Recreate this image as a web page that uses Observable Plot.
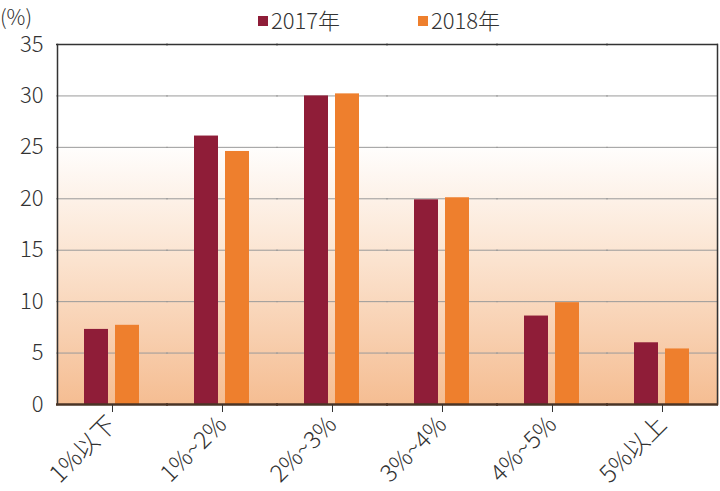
<!DOCTYPE html>
<html>
<head>
<meta charset="utf-8">
<script src="https://cdn.jsdelivr.net/npm/d3@7"></script>
<script src="https://cdn.jsdelivr.net/npm/@observablehq/plot@0.6"></script>
<style>
  html, body { margin: 0; padding: 0; background: #fff; }
  #wrap { position: relative; width: 720px; height: 491px; font-family: "Noto Sans CJK JP", "Noto Sans", sans-serif; color: #333; }
  #unit { position: absolute; left: 0; top: 1px; font-size: 21px; line-height: 30px; font-weight: 300; }
  #legend { position: absolute; top: 6px; left: 0; width: 720px; height: 28px; }
  .item { position: absolute; display: flex; align-items: center; font-size: 22px; line-height: 26px; font-weight: 300; }
  .sw { width: 10px; height: 10px; margin-right: 3px; margin-top: 3px; }
  svg { font-family: "Noto Sans CJK JP", "Noto Sans", sans-serif; }
</style>
</head>
<body>
<div id="wrap">
  <div id="chart"></div>
  <div id="unit">(%)</div>
  <div id="legend"></div>
</div>
<script>
const categories = ["1%以下", "1%~2%", "2%~3%", "3%~4%", "4%~5%", "5%以上"];
const years = ["2017年", "2018年"];
const values2017 = [7.3, 26.1, 30.0, 19.9, 8.6, 6.0];
const values2018 = [7.7, 24.6, 30.2, 20.1, 9.9, 5.4];
const colors = ["#8f1d38", "#ee7f2d"];
const yTicks = [0, 5, 10, 15, 20, 25, 30, 35];

const data = [];
categories.forEach((c, i) => {
  data.push({category: c, year: years[0], value: values2017[i]});
  data.push({category: c, year: years[1], value: values2018[i]});
});

const chart = Plot.plot({
  width: 720,
  height: 491,
  marginTop: 44,
  marginBottom: 87,
  marginLeft: 57,
  marginRight: 3,
  style: {fontSize: "20px", color: "#333", background: "transparent"},
  fx: {domain: categories, padding: 0, label: null, axis: null},
  x: {domain: years, paddingInner: 0.22, paddingOuter: 0.83, axis: null},
  y: {domain: [0, 35], axis: null},
  color: {domain: years, range: colors},
  marks: [
    Plot.frame({fill: "url(#bgGrad)", stroke: null, insetLeft: -1, insetRight: -1}),
    Plot.ruleY(yTicks.filter(d => d > 0 && d < 35), {stroke: "#9a9a9a", strokeWidth: 1, insetLeft: -1, insetRight: -1}),
    Plot.ruleY([35], {stroke: "#333", strokeWidth: 1.5, insetLeft: -1, insetRight: -1}),
    Plot.frame({anchor: "left", facetAnchor: "left", stroke: "#333", strokeWidth: 1.5}),
    Plot.frame({anchor: "right", facetAnchor: "right", stroke: "#333", strokeWidth: 1.5}),
    Plot.barY(data, {fx: "category", x: "year", y: "value", fill: "year", inset: 0}),
    Plot.ruleY([0], {stroke: "#4a3426", strokeWidth: 2.5, insetLeft: -1, insetRight: -1}),
    Plot.axisY({ticks: yTicks, tickSize: 0, tickPadding: 14, fontSize: 22, fontWeight: 300, label: null, fill: "#333"}),
    Plot.axisFx({anchor: "bottom", tickSize: 8, tickRotate: -45, tickPadding: 8, fontSize: 24, fontWeight: 300, label: null, fill: "#333", stroke: "#333"})
  ]
});

document.getElementById("chart").appendChild(chart);

const svg = d3.select(chart);
const defs = svg.insert("defs", ":first-child");
const grad = defs.append("linearGradient").attr("id", "bgGrad")
  .attr("x1", 0).attr("y1", 0).attr("x2", 0).attr("y2", 1);
grad.append("stop").attr("offset", "0%").attr("stop-color", "#ffffff");
grad.append("stop").attr("offset", "27%").attr("stop-color", "#ffffff");
grad.append("stop").attr("offset", "60%").attr("stop-color", "#fbe3cf");
grad.append("stop").attr("offset", "100%").attr("stop-color", "#f5bd92");

const legend = d3.select("#legend");
const legendX = [258, 418];
years.forEach((y, i) => {
  const it = legend.append("div").attr("class", "item").style("left", legendX[i] + "px");
  it.append("div").attr("class", "sw").style("background", colors[i]);
  it.append("span").text(y);
});
</script>
</body>
</html>
